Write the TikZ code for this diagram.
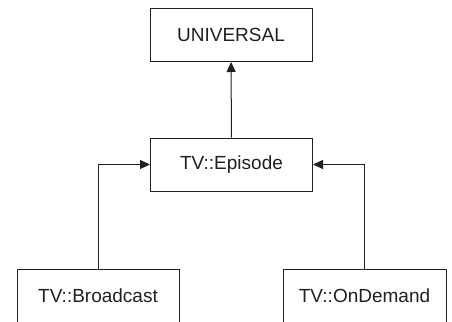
\documentclass[tikz,border=0pt]{standalone}
\usepackage{fontspec}
\setmainfont{Liberation Sans}
\usetikzlibrary{arrows.meta}
\definecolor{ink}{RGB}{35,31,32}
\begin{document}
\begin{tikzpicture}[x=1pt,y=-1pt,
    box/.style={draw=ink,line width=1pt,minimum width=162pt,minimum height=53pt,
      inner sep=0pt,text=ink,font=\fontsize{19}{22}\selectfont},
    inherit/.style={draw=ink,line width=1pt,-{Triangle[length=10pt,width=9pt]}}]
      \useasboundingbox (0,0) rectangle (452,321);
      \clip (0,0) rectangle (452,321);
      \node[box] (universal) at (231,35) {UNIVERSAL};
      \node[box] (episode) at (231.5,164.5) {TV::Episode};
      \node[box] (broadcast) at (98,295.5) {TV::Broadcast};
      \node[box,minimum width=163pt] (ondemand) at (364.5,295.5) {TV::OnDemand};
      \begin{scope}[inherit]
        \draw (episode) to (universal);
        \draw (broadcast.north) |- (episode.west);
        \draw (ondemand.north) |- (episode.east);
      \end{scope}
    \end{tikzpicture}
\end{document}
